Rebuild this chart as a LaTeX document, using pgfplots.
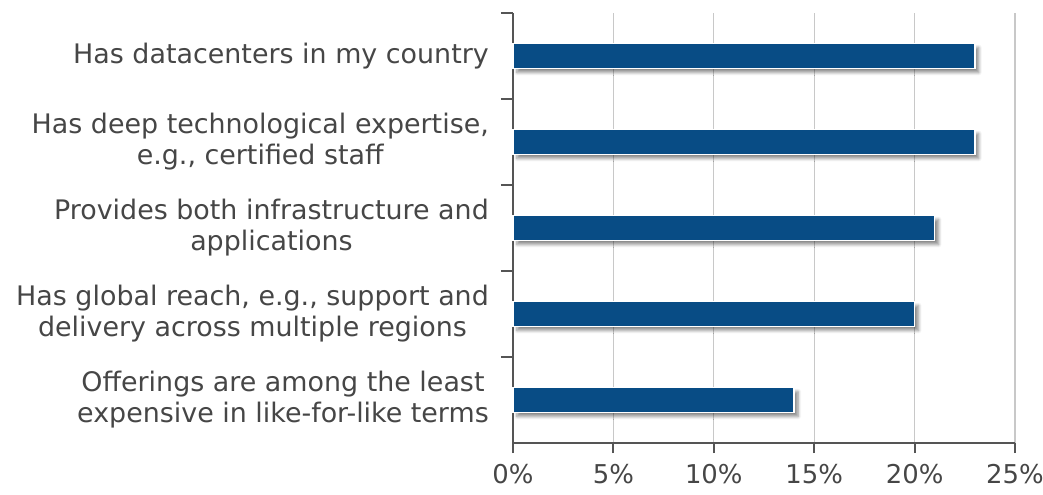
\documentclass[border=0pt]{standalone}
\usepackage{pgfplots}
\pgfplotsset{compat=1.18}
\usepackage{fontspec}
\setmainfont{DejaVu Sans}
\usetikzlibrary{shadows.blur}
\definecolor{barblue}{RGB}{8,76,133}
\definecolor{txtgray}{RGB}{70,70,70}
\definecolor{axgray}{RGB}{85,85,85}
\definecolor{gridgray}{RGB}{200,200,200}

\begin{document}
\begin{tikzpicture}
\useasboundingbox (0,0) rectangle (1043bp,495bp);
\begin{axis}[
    at={(513bp,52bp)}, anchor=south west,
    scale only axis,
    width=502bp, height=430bp,
    xmin=0, xmax=25,
    ymin=-0.5, ymax=4.5,
    y dir=reverse,
    axis x line*=bottom,
    axis y line*=left,
    axis line style={axgray, line width=2bp},
    xtick={0,5,10,15,20,25},
    xticklabels={0\%,5\%,10\%,15\%,20\%,25\%},
    xmajorgrids,
    major grid style={gridgray, line width=1.2bp},
    ytick={0,1,2,3,4},
    yticklabels={Has datacenters in my country,
        {Has deep technological expertise,\\e.g., certified staff},
        {Provides both infrastructure and\\applications},
        {Has global reach, e.g., support and\\delivery across multiple regions},
        {Offerings are among the least\\expensive in like-for-like terms}},
    minor ytick={-0.5,0.5,1.5,2.5,3.5},
    tick align=outside,
    major tick length=10bp,
    minor tick length=12bp,
    y tick style={draw=none},
    minor y tick style={axgray, line width=2bp, draw=axgray},
    x tick style={axgray, line width=2bp},
    yticklabel style={align=center, font=\fontsize{27}{31}\selectfont,
        text=txtgray, inner sep=0pt, xshift=-14bp},
    xticklabel style={font=\fontsize{26}{30}\selectfont, text=txtgray,
        inner sep=0pt, yshift=-11bp},
    clip=false,
]
\addplot[xbar, bar width=25bp, fill=barblue, draw=white, line width=1.5bp,
    blur shadow={shadow xshift=4bp, shadow yshift=-4bp,
        shadow blur radius=3bp, shadow blur steps=6, shadow opacity=45}]
coordinates {(23,0) (23,1) (21,2) (20,3) (14,4)};
\end{axis}
\end{tikzpicture}
\end{document}
